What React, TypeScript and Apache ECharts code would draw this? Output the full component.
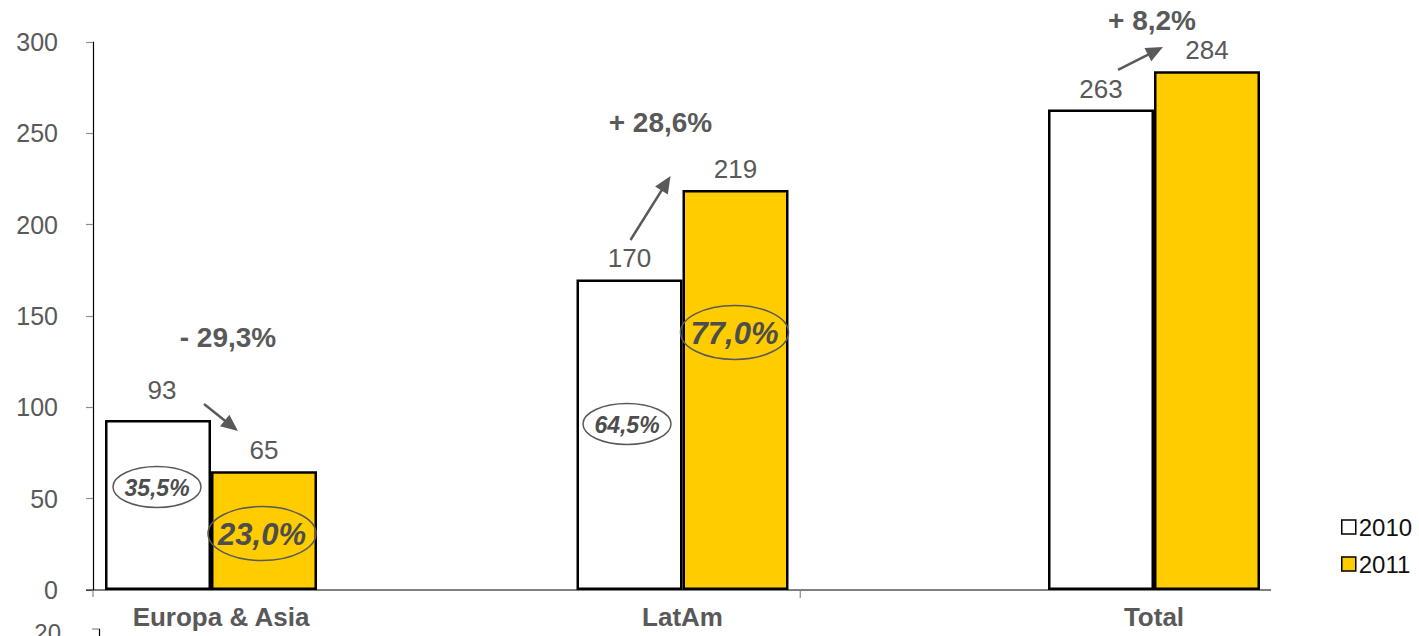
import React, { useEffect, useRef } from "react";
import * as echarts from "echarts";

// ---- data ----
const categories = ["Europa & Asia", "LatAm", "Total"];
const values2010 = [93, 170, 263];
const values2011 = [65, 219, 284];
const share2010 = ["35,5%", "64,5%"];
const share2011 = ["23,0%", "77,0%"];
const changes = ["- 29,3%", "+ 28,6%", "+ 8,2%"];
const seriesNames = ["2010", "2011"];
const yMin = 0;
const yMax = 300;
const yStep = 50;

// ---- annotation layout (pixel offsets from category centre, value heights) ----
const changeAnchors = [
  { dx: 17, v: 138 },
  { dx: -22, v: 256 },
  { dx: -2, v: 311.6 },
];
const arrowAnchors = [
  { s: [-7, 101.8], e: [27, 87.0] },
  { s: [-52, 191.6], e: [-12, 226.6] },
  { s: [-36, 284.7], e: [9, 297.3] },
];
const share2010Anchors = [
  { dx: -54, v: 56.4 },
  { dx: -55.5, v: 90.9 },
];
const share2011Anchors = [
  { dx: 51, v: 30.9 },
  { dx: 52, v: 141 },
];

const FONT = "'Liberation Sans', Arial, sans-serif";
const GREY = "#595959";

export default function App() {
  const ref = useRef<HTMLDivElement>(null);

  useEffect(() => {
    document.body.style.margin = "0";
    const chart = echarts.init(ref.current!, null, { renderer: "svg" });

    const labelBase = {
      show: true,
      position: "top",
      distance: 8,
      color: GREY,
      fontSize: 26,
      fontFamily: FONT,
    };

    const option: any = {
      animation: false,
      grid: { left: 211, right: 265, top: 42, bottom: 46, containLabel: false },
      legend: {
        data: seriesNames,
        orient: "vertical",
        left: 1336,
        top: 510,
        icon: "rect",
        itemWidth: 14,
        itemHeight: 14,
        itemGap: 13,
        textStyle: { fontSize: 24, color: "#111", fontFamily: FONT, padding: [0, 0, 0, -2] },
        itemStyle: { borderWidth: 1.5, borderColor: "#000" },
      },
      xAxis: {
        type: "category",
        data: categories.map((c, i) =>
          i === 0 ? { value: c, textStyle: { padding: [0, 0, 0, 20] } } : c
        ),
        boundaryGap: false,
        axisLine: { show: false },
        axisTick: { show: false },
        axisLabel: {
          color: GREY,
          fontSize: 26,
          fontWeight: "bold",
          fontFamily: FONT,
          margin: 14,
        },
      },
      yAxis: {
        type: "value",
        min: yMin,
        max: yMax,
        interval: yStep,
        offset: 118,
        splitLine: { show: false },
        axisLine: { show: true, lineStyle: { color: "#000", width: 1.2 } },
        axisTick: { show: true, length: 7, lineStyle: { color: "#8c8c8c", width: 1.2 } },
        axisLabel: { color: GREY, fontSize: 25, fontFamily: FONT, margin: 35 },
      },
      series: [
        {
          name: seriesNames[0],
          type: "bar",
          clip: false,
          barWidth: 106,
          barGap: "0%",
          itemStyle: { color: "#ffffff", borderColor: "#000", borderWidth: 2.5 },
          label: labelBase,
          data: values2010.map((v, i) =>
            i === 0 ? { value: v, label: { distance: 17, offset: [4, 0] } } : v
          ),
        },
        {
          name: seriesNames[1],
          type: "bar",
          clip: false,
          barWidth: 106,
          barGap: "0%",
          itemStyle: { color: "#FFCC00", borderColor: "#000", borderWidth: 2.5 },
          label: labelBase,
          data: values2011,
        },
      ],
    };
    chart.setOption(option);

    const px = (i: number, dx: number, v: number) => {
      const p = chart.convertToPixel({ seriesIndex: 0 }, [i, v]) as number[];
      return [p[0] + dx, p[1]];
    };

    const els: any[] = [];
    const y0 = px(0, 0, 0)[1];
    const xLeft = px(0, 0, 0)[0] - 125;
    const xRight = px(2, 0, 0)[0] + 117;
    // x axis line extending beyond the bars
    els.push({
      type: "line",
      shape: { x1: xLeft, y1: y0, x2: xRight, y2: y0 },
      style: { stroke: "#000", lineWidth: 1.2 },
    });
    els.push({
      type: "line",
      shape: { x1: xLeft + 7, y1: y0, x2: xLeft + 7, y2: y0 + 7 },
      style: { stroke: "#8c8c8c", lineWidth: 1.2 },
    });
    const midTick = (px(1, 0, 0)[0] + px(2, 0, 0)[0]) / 2 - 118;
    els.push({
      type: "line",
      shape: { x1: midTick, y1: y0 + 1, x2: midTick, y2: y0 + 8 },
      style: { stroke: "#8c8c8c", lineWidth: 1.2 },
    });

    // cut-off fragment of the chart below (as in the reference)
    els.push({
      type: "text",
      style: { text: "20", x: 61, y: 620, align: "right", verticalAlign: "top", fill: GREY, font: `24px ${FONT}` },
    });
    els.push({
      type: "line",
      shape: { x1: 92, y1: 629, x2: 100, y2: 629 },
      style: { stroke: "#8c8c8c", lineWidth: 1.2 },
    });
    els.push({
      type: "line",
      shape: { x1: 99.5, y1: 629, x2: 99.5, y2: 640 },
      style: { stroke: "#000", lineWidth: 1.2 },
    });

    // change labels
    changes.forEach((t, i) => {
      const [x, y] = px(i, changeAnchors[i].dx, changeAnchors[i].v);
      els.push({
        type: "text",
        style: { text: t, x, y, align: "center", verticalAlign: "middle", fill: GREY, font: `bold 28px ${FONT}` },
      });
    });

    // arrows
    arrowAnchors.forEach((a, i) => {
      const s = px(i, a.s[0], a.s[1]);
      const e = px(i, a.e[0], a.e[1]);
      const dx = e[0] - s[0];
      const dy = e[1] - s[1];
      const L = Math.hypot(dx, dy);
      const ux = dx / L;
      const uy = dy / L;
      const hl = 17;
      const hw = 7.5;
      const bx = e[0] - ux * hl;
      const by = e[1] - uy * hl;
      els.push({
        type: "line",
        shape: { x1: s[0], y1: s[1], x2: bx + ux * 2, y2: by + uy * 2 },
        style: { stroke: GREY, lineWidth: 2.5 },
      });
      els.push({
        type: "polygon",
        shape: {
          points: [
            [e[0], e[1]],
            [bx - uy * hw, by + ux * hw],
            [bx + uy * hw, by - ux * hw],
          ],
        },
        style: { fill: GREY },
      });
    });

    // share ellipses
    const addEllipse = (t: string, i: number, a: { dx: number; v: number }, big: boolean) => {
      const [x, y] = px(i, a.dx, a.v);
      els.push({
        type: "ellipse",
        shape: { cx: x, cy: y, rx: big ? 54 : 44, ry: big ? 27 : 20.5 },
        style: { fill: "none", stroke: GREY, lineWidth: 1.5 },
      });
      els.push({
        type: "text",
        style: {
          text: t,
          x,
          y: y + 1,
          align: "center",
          verticalAlign: "middle",
          fill: "#4d4d4d",
          font: `italic bold ${big ? 31 : 23}px ${FONT}`,
        },
      });
    };
    share2010.forEach((t, i) => addEllipse(t, i, share2010Anchors[i], false));
    share2011.forEach((t, i) => addEllipse(t, i, share2011Anchors[i], true));

    chart.setOption({ graphic: { elements: els.map((e) => ({ ...e, z: 100 })) } });

    return () => chart.dispose();
  }, []);

  return (
    <div
      ref={ref}
      style={{ position: "fixed", left: 0, top: 0, width: 1419, height: 636, background: "#fff" }}
    />
  );
}
